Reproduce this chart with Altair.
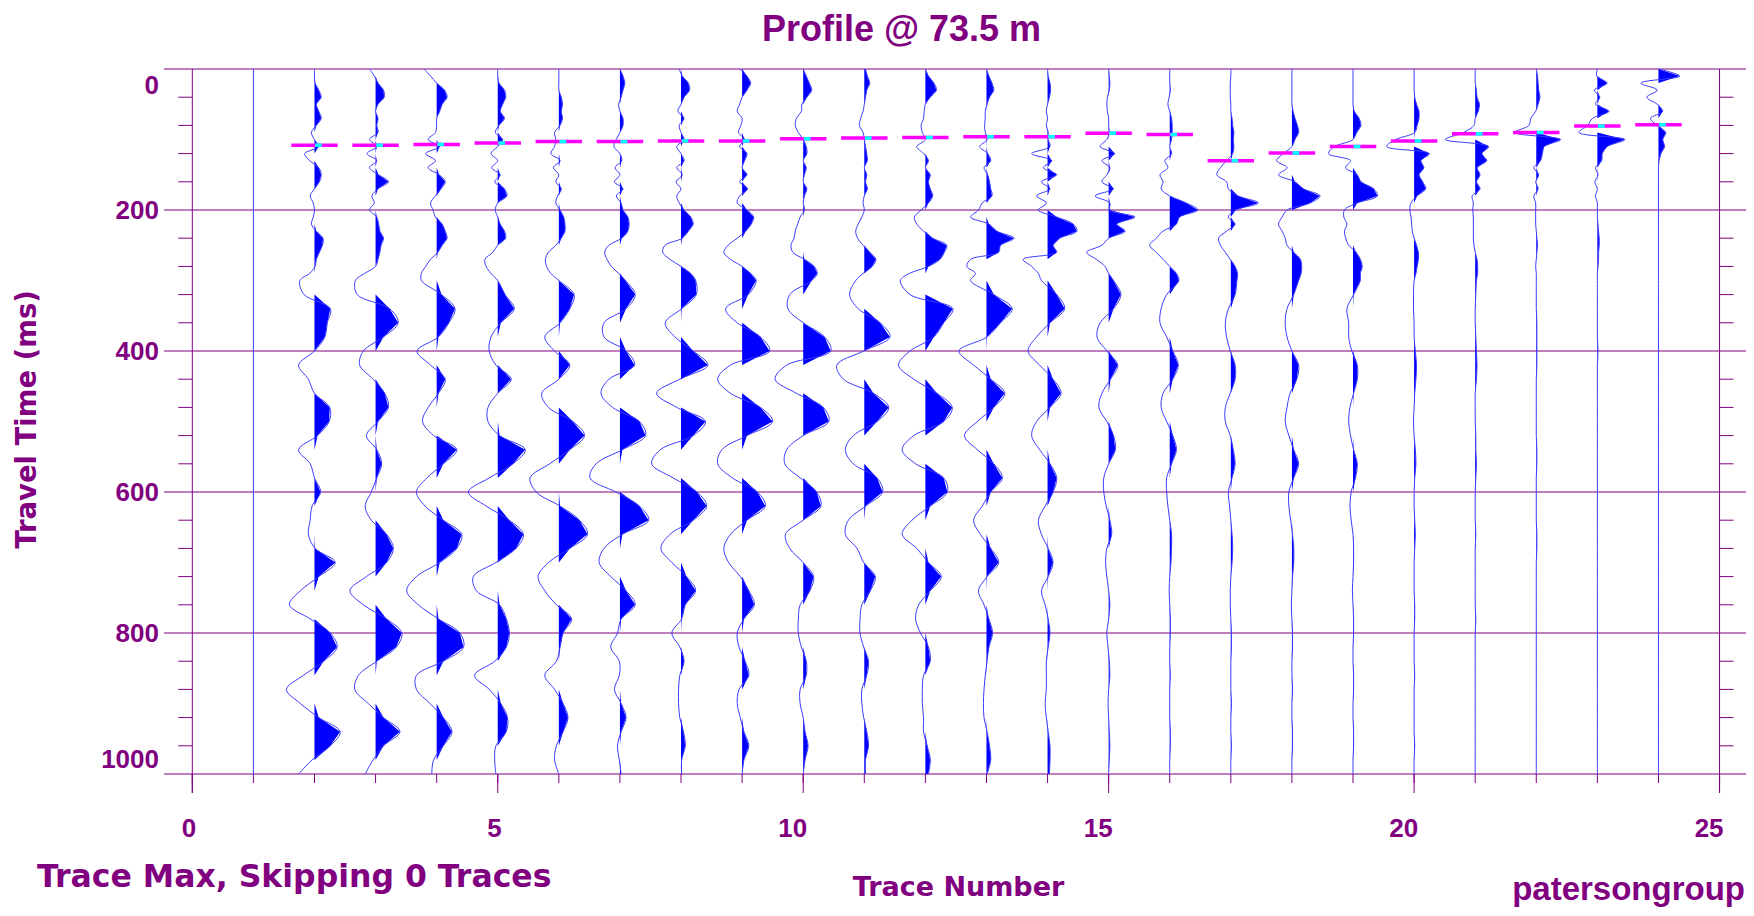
import altair as alt
import pandas as pd

# ---------------- data ----------------
TIMES = [0, 10, 20, 30, 40, 50, 60, 70, 80, 90, 100, 110, 120, 130, 140, 150, 160, 170, 180, 190,
         200, 210, 220, 230, 240, 250, 260, 270, 280, 290, 300, 320, 340, 360, 380, 400, 420, 440,
         460, 480, 500, 520, 540, 560, 580, 600, 620, 640, 660, 680, 700, 720, 740, 760, 780, 800,
         820, 840, 860, 880, 900, 920, 940, 960, 980, 1000]

# amplitude of each trace (in trace-spacing units), 0-300 ms every 10 ms, then every 20 ms
TRACE_02 = [0, 0, 0.01, 0.07, 0.11, 0.03, 0.07, 0.11, 0.03, -0.05, 0, 0.07, -0.16, -0.08, 0.07, 0.11, 0.08, 0, -0.07, -0.02, 0, -0.02, -0.05, 0.03, 0.14, 0.13, 0.08, 0.03, 0.01, -0.08, -0.24] + \
           [-0.17, 0.26, 0.21, 0.17, 0, -0.26, -0.1, 0, 0.25, 0.24, 0.05, -0.26, -0.07, 0, 0.1, -0.04, -0.07, -0.1, 0.01, 0.34, 0.07, -0.23, -0.41, -0.07, 0.26, 0.37, 0.15, -0.18, -0.46, -0.23, 0.07, 0.42, 0.26, -0.04, -0.26]
TRACE_03 = [-0.1, -0.02, 0.04, 0.13, 0.14, 0.04, 0, 0.04, 0.02, 0.04, -0.1, 0.02, -0.14, 0.02, -0.1, 0.05, 0.21, 0.04, -0.06, -0.02, -0.1, 0.02, 0.05, 0.07, 0.13, 0.09, 0.07, 0.04, 0, -0.18, -0.33] + \
           [-0.3, 0.23, 0.37, 0.13, -0.2, -0.26, -0.04, 0.15, 0.21, 0.04, -0.15, 0.02, 0.1, 0.02, -0.07, -0.17, -0.07, 0.18, 0.29, 0.18, -0.15, -0.42, -0.2, 0.18, 0.43, 0.34, 0.02, -0.28, -0.34, -0.12, 0.13, 0.4, 0.13, -0.04, -0.17]
TRACE_04 = [-0.21, -0.1, 0, 0.13, 0.17, 0.09, 0.05, 0, 0, -0.02, -0.14, 0.05, -0.18, -0.02, -0.14, 0.04, 0.14, 0.07, -0.02, -0.1, -0.06, -0.02, 0.09, 0.14, 0.17, 0.09, 0.02, -0.1, -0.18, -0.25, -0.25] + \
           [0.08, 0.3, 0.2, 0.03, -0.32, -0.1, 0.14, 0.03, -0.14, -0.23, -0.05, 0.33, 0.11, -0.16, -0.33, -0.19, 0.11, 0.41, 0.33, 0.05, -0.33, -0.49, -0.3, 0.03, 0.38, 0.44, 0.11, -0.33, -0.33, -0.11, 0.11, 0.25, 0.11, -0.05, -0.08]
TRACE_05 = [0, 0, 0.02, 0.11, 0.13, 0.08, 0.04, 0.11, 0.02, -0.04, 0.08, 0, -0.11, 0, -0.1, 0.04, -0.05, 0.11, 0.15, 0, -0.04, 0, 0.04, 0.11, 0.13, 0, -0.08, -0.21, -0.19, -0.11, 0] + \
           [0.12, 0.27, 0.05, -0.11, -0.14, -0.03, 0.22, 0, -0.16, -0.16, 0.03, 0.45, 0.25, -0.14, -0.48, -0.19, 0.19, 0.42, 0.3, -0.03, -0.4, -0.35, 0.03, 0.14, 0.19, 0.14, -0.05, -0.38, -0.14, 0.05, 0.16, 0.14, -0.03, -0.05, -0.03]
TRACE_06 = [0, 0, 0, 0, 0.04, 0.06, 0.04, 0.06, 0.02, -0.07, -0.05, -0.07, -0.13, 0.02, -0.09, 0, -0.05, 0.04, -0.02, -0.05, 0.02, 0.08, 0.1, 0.1, 0.04, -0.05, -0.17, -0.22, -0.2, -0.13, 0] + \
           [0.25, 0.18, 0.02, -0.23, -0.07, 0.18, 0, -0.28, -0.17, 0.23, 0.42, 0.18, -0.15, -0.47, -0.37, 0.02, 0.34, 0.47, 0.18, -0.17, -0.34, -0.23, -0.04, 0.21, 0.07, 0.02, -0.04, -0.23, -0.07, 0.07, 0.15, 0.07, -0.04, -0.07, 0]
TRACE_07 = [0, 0.05, 0.08, 0.05, 0.02, -0.02, 0, 0.05, 0.05, 0, -0.06, -0.1, 0, 0.03, -0.08, 0, -0.09, 0.05, -0.06, 0.02, 0.05, 0.13, 0.15, 0.13, 0.03, -0.18, -0.25, -0.21, -0.14, -0.02, 0.09] + \
           [0.25, 0.1, -0.26, -0.26, 0.1, 0.24, -0.18, -0.31, -0.12, 0.32, 0.42, 0.04, -0.39, -0.49, -0.07, 0.32, 0.47, 0.04, -0.26, -0.34, -0.15, 0.1, 0.25, 0.02, -0.04, -0.15, -0.01, -0.01, -0.09, 0.02, 0.1, 0.02, -0.04, -0.01, 0.02]
TRACE_08 = [-0.03, 0.02, 0.12, 0.14, 0.05, 0, -0.05, 0.05, -0.03, 0, 0.05, -0.07, 0, 0.05, -0.07, 0.02, -0.08, 0, -0.07, -0.03, 0.05, 0.16, 0.2, 0.12, 0.02, -0.26, -0.3, -0.18, 0, 0.16, 0.24] + \
           [0.25, 0.01, -0.26, -0.1, 0.2, 0.44, -0.02, -0.4, -0.07, 0.4, 0.2, -0.34, -0.48, -0.13, 0.26, 0.42, 0.2, -0.18, -0.33, -0.15, 0.09, 0.24, 0.07, 0.01, -0.15, -0.02, 0.05, -0.02, -0.04, -0.04, -0.02, 0.04, 0.07, 0.01, 0.01]
TRACE_09 = [-0.04, 0.08, 0.14, 0.08, 0, -0.04, -0.08, 0, -0.02, -0.06, 0.04, -0.04, 0.08, 0.04, 0, 0.08, -0.04, 0.09, -0.04, -0.08, 0.08, 0.19, 0.15, 0.06, -0.08, -0.23, -0.3, -0.19, 0, 0.14, 0.23] + \
           [0.1, -0.27, -0.08, 0.3, 0.45, -0.19, -0.4, -0.19, 0.3, 0.5, 0.08, -0.33, -0.4, -0.16, 0.25, 0.38, 0.08, -0.19, -0.3, -0.22, -0.03, 0.11, 0.2, 0.03, -0.08, -0.05, 0.05, 0.11, -0.05, -0.08, -0.03, 0.03, 0.11, 0.03, 0]
TRACE_10 = [0, 0.05, 0.1, 0.14, 0.06, -0.02, -0.03, -0.11, -0.13, -0.08, 0, 0.05, 0.06, 0, 0.05, 0.02, 0, 0.06, 0.02, 0, 0.02, -0.05, -0.09, -0.13, -0.15, -0.2, -0.17, 0.02, 0.18, 0.23, 0.14] + \
           [-0.22, -0.25, 0, 0.35, 0.45, -0.27, -0.46, -0.11, 0.33, 0.42, 0, -0.27, -0.3, -0.05, 0.22, 0.29, 0, -0.29, -0.22, 0, 0.17, 0.11, -0.05, -0.08, -0.08, -0.03, 0.05, 0.05, -0.05, -0.05, 0, 0.03, 0.08, 0.03, 0]
TRACE_11 = [0.02, 0.05, 0.09, 0.04, 0.02, 0, -0.02, -0.06, -0.08, -0.02, 0, 0.02, 0.04, 0.05, 0, 0.04, 0.02, 0.05, 0, -0.02, 0, -0.04, -0.1, -0.14, -0.11, -0.02, 0.09, 0.19, 0.13, -0.02, -0.14] + \
           [-0.24, -0.1, 0.26, 0.42, -0.01, -0.45, -0.34, 0.15, 0.4, 0.21, -0.18, -0.31, -0.18, 0.21, 0.3, 0.02, -0.26, -0.31, -0.12, -0.01, 0.18, 0.1, -0.04, -0.07, -0.07, -0.01, 0.07, 0.04, -0.04, -0.04, -0.01, 0.04, 0.07, 0.02, 0.02]
TRACE_12 = [0, 0.05, 0.14, 0.18, 0.08, 0, -0.02, -0.03, -0.07, -0.05, 0, -0.14, -0.03, 0.05, 0, 0.08, 0.05, 0.08, 0.12, 0.05, -0.07, -0.18, -0.14, -0.03, 0.12, 0.35, 0.31, 0.24, 0.05, -0.26, -0.41] + \
           [-0.25, 0.45, 0.3, 0.14, -0.25, -0.44, -0.19, 0.19, 0.44, 0.3, -0.19, -0.38, -0.16, 0.3, 0.36, 0.08, -0.22, -0.38, -0.14, 0.05, 0.26, 0.08, -0.11, -0.16, -0.08, 0.05, 0.08, -0.03, -0.05, -0.05, -0.03, -0.03, 0.03, 0.08, 0.05]
TRACE_13 = [0, 0.04, 0.09, 0.12, 0.05, 0.01, -0.02, -0.02, -0.03, -0.02, 0.01, -0.11, 0.02, 0.07, -0.04, 0.02, 0.05, 0.07, 0.09, -0.07, -0.13, -0.26, 0.04, 0.17, 0.45, 0.23, 0.2, -0.26, -0.32, -0.18, -0.26] + \
           [0.12, 0.42, 0.23, 0.01, -0.45, -0.21, 0.07, 0.3, 0.12, -0.15, -0.36, -0.15, 0.12, 0.26, 0.07, -0.07, -0.21, -0.1, 0.07, 0.2, 0.01, -0.13, -0.04, 0.04, 0.1, 0.04, 0.01, -0.02, -0.04, -0.05, -0.04, 0.01, 0.05, 0.07, 0.01]
TRACE_14 = [0, 0.01, 0.04, 0.05, 0.03, 0, -0.02, 0, -0.02, 0.01, 0.01, 0.04, -0.26, 0.07, -0.07, 0.15, -0.1, 0.04, -0.18, -0.02, -0.15, 0.15, 0.42, 0.48, 0.2, 0.09, 0.15, -0.4, -0.26, -0.15, -0.1] + \
           [0.15, 0.28, 0.04, -0.18, -0.32, -0.13, 0.09, 0.22, 0.04, -0.18, -0.26, -0.13, 0.04, 0.15, 0.09, -0.04, -0.15, -0.1, 0.01, 0.09, 0.01, -0.1, -0.04, 0.01, 0.04, 0.01, -0.02, -0.02, -0.02, -0.04, -0.02, 0.01, 0.04, 0.04, 0.03]
TRACE_15 = [0, 0.01, 0.02, 0.01, -0.02, -0.03, -0.02, 0, 0, 0.01, -0.03, -0.14, 0.1, -0.11, 0.02, -0.03, -0.11, 0.08, -0.22, 0.02, 0.02, 0.43, 0.13, 0.27, 0, -0.11, -0.36, -0.2, -0.06, 0, 0.08] + \
           [0.2, 0.08, -0.14, -0.19, -0.03, 0.15, 0.03, -0.11, -0.16, -0.03, 0.08, 0.11, 0, -0.08, -0.08, -0.04, 0.02, 0.05, -0.03, -0.05, -0.03, 0, 0.02, 0, -0.03, -0.01, 0.01, 0.02, 0, -0.01, 0, 0.01, 0.02, 0.01, 0]
TRACE_16 = [0, 0, 0, 0.01, -0.01, -0.03, 0, 0.03, 0.04, 0.04, 0.03, 0, 0.03, -0.08, -0.03, -0.16, -0.11, -0.14, 0, 0.27, 0.46, 0.16, 0.11, -0.11, -0.22, -0.33, -0.22, -0.11, 0, 0.11, 0.15] + \
           [-0.05, -0.14, -0.16, -0.05, 0.05, 0.14, 0.05, -0.11, -0.14, -0.05, 0.05, 0.11, 0.03, -0.05, -0.05, -0.03, 0, 0.03, 0.03, 0.02, 0, -0.01, 0, 0.01, 0.01, 0, 0, 0.01, 0, 0, 0, 0.01, 0.01, 0, 0]
TRACE_17 = [0, 0, -0.01, -0.01, -0.01, 0, 0, 0.02, 0.03, 0.05, 0.04, 0.05, 0.03, -0.07, -0.17, -0.23, -0.07, -0.04, 0.12, 0.45, 0.08, -0.04, 0.07, -0.07, -0.2, -0.17, -0.09, -0.01, 0.07, 0.11, 0.1] + \
           [0.07, -0.04, -0.09, -0.07, -0.01, 0.07, 0.07, -0.01, -0.09, -0.09, -0.01, 0.04, 0.07, 0.02, -0.04, -0.02, 0, 0.02, 0.03, 0.02, 0, -0.01, -0.01, 0, 0.01, 0.01, 0, 0, 0, 0.01, 0, 0, 0.01, 0, 0]
TRACE_18 = [0, 0, 0, 0, 0, 0, 0.02, 0.05, 0.09, 0.11, 0.05, 0, -0.14, -0.25, -0.08, -0.22, 0.05, 0.19, 0.46, 0.3, -0.08, -0.16, -0.22, -0.16, -0.11, -0.08, 0.03, 0.14, 0.16, 0.15, 0.11] + \
           [0.03, -0.08, -0.11, -0.08, 0, 0.11, 0.08, -0.03, -0.08, -0.11, -0.05, 0.03, 0.11, 0.03, -0.05, -0.05, -0.02, 0.01, 0.03, 0.03, 0.01, 0, -0.01, 0, 0.01, 0.01, 0, 0, 0.01, 0, 0, 0.01, 0.01, 0, 0]
TRACE_19 = [0, 0, 0, 0, 0, 0, 0.02, 0.1, 0.13, 0.06, 0, -0.3, -0.4, -0.04, -0.12, 0.07, 0.13, 0.34, 0.4, 0.07, -0.14, -0.15, -0.1, -0.14, -0.12, -0.07, 0.05, 0.12, 0.15, 0.12, 0.12] + \
           [0.01, -0.1, -0.07, -0.07, -0.02, 0.07, 0.07, 0.01, -0.05, -0.07, -0.04, 0.01, 0.07, 0.04, -0.03, -0.05, -0.03, 0, 0.01, 0.01, 0, -0.01, 0, 0.01, 0.01, 0, 0, 0.01, 0.01, 0, 0, 0.01, 0.01, 0, 0]
TRACE_20 = [0, 0, 0, 0, 0.01, 0.04, 0.08, 0.08, 0.05, 0.01, -0.3, -0.45, 0.25, 0.11, 0.16, 0.08, 0.14, 0.19, 0.05, -0.05, -0.07, -0.05, -0.04, -0.03, 0, 0.04, 0.07, 0.07, 0.05, 0.03, 0] + \
           [-0.01, -0.01, 0, 0, 0.02, 0.04, 0.03, 0.01, 0, -0.01, 0, 0.02, 0.03, 0.01, 0, 0, 0.01, 0.02, 0.01, 0, 0, 0, 0.01, 0.01, 0, 0, 0, 0.01, 0, 0, 0, 0, 0.01, 0, 0]
TRACE_21 = [0, 0, 0, 0.02, 0.03, 0.07, 0.05, 0, -0.02, -0.19, -0.49, 0.22, 0.11, 0.19, 0.03, 0.08, 0.02, 0.08, -0.05, -0.03, -0.04, -0.03, -0.03, -0.03, -0.03, -0.02, 0, 0.03, 0.04, 0.04, 0.02] + \
           [0.01, 0, 0, 0.01, 0.02, 0.03, 0.02, 0, 0, 0, 0.01, 0.01, 0.02, 0.01, 0, 0, 0, 0.01, 0, 0, 0, 0, 0, 0.01, 0, 0, 0, 0, 0, 0, 0, 0, 0, 0, 0]
TRACE_22 = [0, 0.02, 0.03, 0.04, 0.06, 0.03, -0.01, -0.09, -0.12, -0.35, 0.4, 0.13, 0.1, 0.07, -0.04, 0.04, -0.01, 0.03, -0.04, -0.01, -0.01, -0.01, -0.01, 0, 0.01, 0.02, 0.01, 0, -0.01, 0, 0] + \
           [0, 0, 0.01, 0.01, 0.01, 0.01, 0, 0, 0, 0, 0, 0.01, 0.01, 0, 0, 0, 0, 0.01, 0.01, 0, 0, 0, 0, 0, 0, 0, 0, 0, 0, 0, 0, 0, 0, 0, 0]
TRACE_23 = [0, -0.01, 0.16, -0.05, 0.04, -0.03, 0.19, -0.08, -0.16, -0.3, 0.45, 0.16, 0.08, 0.07, -0.03, 0.01, -0.04, 0, -0.03, 0, 0, 0, 0.01, 0.02, 0.03, 0.03, 0.02, 0.02, 0.01, 0, 0] + \
           [0, 0, 0, 0, 0.01, 0, 0, 0, 0, 0, 0, 0, 0, 0, 0, 0, 0, 0, 0, 0, 0, 0, 0, 0, 0, 0, 0, 0, 0, 0, 0, 0, 0, 0, 0]
TRACE_24 = [0, 0.35, -0.29, -0.02, -0.19, -0.02, 0.07, -0.13, -0.02, 0.12, 0.07, 0.1, 0.04, 0.01, 0, 0, 0, 0, 0, 0, 0, 0, 0, 0, 0, 0, 0, 0, 0, 0, 0] + \
           [0, 0, 0, 0, 0, 0, 0, 0, 0, 0, 0, 0, 0, 0, 0, 0, 0, 0, 0, 0, 0, 0, 0, 0, 0, 0, 0, 0, 0, 0, 0, 0, 0, 0, 0]

TRACE_NUMBERS = [2, 3, 4, 5, 6, 7, 8, 9, 10, 11, 12, 13, 14, 15, 16, 17, 18, 19, 20, 21, 22, 23, 24]
TRACE_AMPS = [TRACE_02, TRACE_03, TRACE_04, TRACE_05, TRACE_06, TRACE_07, TRACE_08, TRACE_09, TRACE_10,
              TRACE_11, TRACE_12, TRACE_13, TRACE_14, TRACE_15, TRACE_16, TRACE_17, TRACE_18, TRACE_19,
              TRACE_20, TRACE_21, TRACE_22, TRACE_23, TRACE_24]
DEAD_TRACES = [1]

# first-break picks (ms)
PICK_MS = [108, 108, 107, 105, 103, 103, 102, 102, 99, 98, 97, 96, 96, 91, 93, 130, 119, 110, 102, 92, 90, 81, 79]

# axes
Y_GRID = [0, 200, 400, 600, 800, 1000]
Y_LABELS = ["0", "200", "400", "600", "800", "1000"]
Y_MINOR = [40, 80, 120, 160, 240, 280, 320, 360, 440, 480, 520, 560, 640, 680, 720, 760, 840, 880, 920, 960]
X_TICKS = [0, 1, 2, 3, 4, 5, 6, 7, 8, 9, 10, 11, 12, 13, 14, 15, 16, 17, 18, 19, 20, 21, 22, 23, 24, 25]
X_MAJOR = [0, 5, 10, 15, 20, 25]
X_LABELS = ["0", "5", "10", "15", "20", "25"]
FRAME_X = [0, 25]

TITLE = "Profile @ 73.5 m"
Y_TITLE = "Travel Time (ms)"
X_TITLE = "Trace Number"
NOTE = "Trace Max, Skipping 0 Traces"
BRAND = "patersongroup"

# ---------------- styling ----------------
W, H = 1582, 705
XMIN, XMAX = -0.4633, 25.433
PURPLE = "#800080"
BLUE = "#0000FF"
LINE_BLUE = "#3a3aff"

rows = []
for n, amps in zip(TRACE_NUMBERS, TRACE_AMPS):
    for t, a in zip(TIMES, amps):
        rows.append({"trace": n, "t": t, "x": n + a, "base": n, "pos": n + max(a, 0.0)})
df = pd.DataFrame(rows)

xs = alt.Scale(domain=[XMIN, XMAX], nice=False, zero=False)
ys = alt.Scale(domain=[0, 1000], nice=False, zero=False, reverse=True)

hgrid = alt.Chart(pd.DataFrame({"g": Y_GRID})).mark_rule(color=PURPLE, strokeWidth=1).encode(
    y=alt.Y("g:Q", scale=ys, axis=None), x=alt.value(0), x2=alt.value(W))

frame = alt.Chart(pd.DataFrame({"f": FRAME_X})).mark_rule(color=PURPLE, strokeWidth=1).encode(
    x=alt.X("f:Q", scale=xs, axis=None), y=alt.value(0), y2=alt.value(H + 19))

minor_df = pd.DataFrame({"m": Y_MINOR})
left_ticks = alt.Chart(minor_df).transform_calculate(e="0").mark_rule(
    color=PURPLE, strokeWidth=1, xOffset=-14).encode(
    x=alt.X("e:Q", scale=xs, axis=None), x2="e:Q", y=alt.Y("m:Q", scale=ys, axis=None))
right_ticks = alt.Chart(minor_df).transform_calculate(e="25").mark_rule(
    color=PURPLE, strokeWidth=1, x2Offset=14).encode(
    x=alt.X("e:Q", scale=xs, axis=None), x2="e:Q", y=alt.Y("m:Q", scale=ys, axis=None))

xt_minor = alt.Chart(pd.DataFrame({"k": X_TICKS})).mark_rule(color=PURPLE, strokeWidth=1).encode(
    x=alt.X("k:Q", scale=xs, axis=None), y=alt.value(H), y2=alt.value(H + 9))
xt_major = alt.Chart(pd.DataFrame({"k": X_MAJOR})).mark_rule(color=PURPLE, strokeWidth=1).encode(
    x=alt.X("k:Q", scale=xs, axis=None), y=alt.value(H), y2=alt.value(H + 19))

# tick labels through the scales
ylab_df = pd.DataFrame({"g": Y_GRID, "lab": Y_LABELS})
lab_style = dict(font="Liberation Sans", fontWeight="bold", fontSize=26, color=PURPLE)
ylab_mid = alt.Chart(ylab_df).transform_filter("datum.g > 0 && datum.g < 1000").mark_text(
    align="right", baseline="middle", dy=1, **lab_style).encode(
    y=alt.Y("g:Q", scale=ys, axis=None), x=alt.value(-5), text="lab:N")
ylab_top = alt.Chart(ylab_df).transform_filter("datum.g == 0").mark_text(
    align="right", baseline="top", dy=4, **lab_style).encode(
    y=alt.Y("g:Q", scale=ys, axis=None), x=alt.value(-5), text="lab:N")
ylab_bot = alt.Chart(ylab_df).transform_filter("datum.g == 1000").mark_text(
    align="right", baseline="alphabetic", dy=-6, **lab_style).encode(
    y=alt.Y("g:Q", scale=ys, axis=None), x=alt.value(-5), text="lab:N")
xlab = alt.Chart(pd.DataFrame({"k": X_MAJOR, "lab": X_LABELS})).mark_text(
    align="right", baseline="alphabetic", dx=4, **lab_style).encode(
    x=alt.X("k:Q", scale=xs, axis=None), y=alt.value(H + 63), text="lab:N")

dead = alt.Chart(pd.DataFrame({"d": DEAD_TRACES})).mark_rule(color=LINE_BLUE, strokeWidth=1).encode(
    x=alt.X("d:Q", scale=xs, axis=None), y=alt.value(0), y2=alt.value(H))

fill = alt.Chart(df).mark_area(orient="horizontal", color=BLUE, interpolate="linear").encode(
    y=alt.Y("t:Q", scale=ys, axis=None),
    x=alt.X("base:Q", scale=xs, axis=None),
    x2="pos:Q",
    detail="trace:N")

wiggle = alt.Chart(df).mark_line(color=LINE_BLUE, strokeWidth=1, interpolate="catmull-rom").encode(
    x=alt.X("x:Q", scale=xs, axis=None),
    y=alt.Y("t:Q", scale=ys, axis=None),
    detail="trace:N",
    order="t:Q")

pick_df = pd.DataFrame({"trace": TRACE_NUMBERS, "pick": PICK_MS})
picks = alt.Chart(pick_df).transform_calculate(
    a="datum.trace - 0.38", b="datum.trace + 0.38").mark_rule(color="#FF00FF", strokeWidth=3.5).encode(
    x=alt.X("a:Q", scale=xs, axis=None), x2="b:Q", y=alt.Y("pick:Q", scale=ys, axis=None))
cyan = alt.Chart(pick_df).transform_calculate(
    a="datum.trace + 0.01", b="datum.trace + 0.12").mark_rule(color="#00FFFF", strokeWidth=3.5).encode(
    x=alt.X("a:Q", scale=xs, axis=None), x2="b:Q", y=alt.Y("pick:Q", scale=ys, axis=None))


def label(txt, x, y, size, font="Liberation Sans", align="center", angle=0, baseline="alphabetic"):
    return alt.Chart(pd.DataFrame({"s": [txt]})).mark_text(
        font=font, fontWeight="bold", fontSize=size, color=PURPLE, align=align,
        baseline=baseline, angle=angle).encode(text="s:N", x=alt.value(x), y=alt.value(y))


title = label(TITLE, 737.5, -28, 36)
ytitle = label(Y_TITLE, -136, 350.5, 27.5, font="DejaVu Sans", angle=270, baseline="middle")
xtitle = label(X_TITLE, 794.5, 827, 27, font="DejaVu Sans")
note = label(NOTE, -127, 818, 31.5, font="DejaVu Sans", align="left")
brand = label(BRAND, 1581, 831, 33, align="right")

chart = alt.layer(
    hgrid, frame, left_ticks, right_ticks, xt_minor, xt_major, dead, fill, wiggle, picks, cyan,
    ylab_mid, ylab_top, ylab_bot, xlab, title, ytitle, xtitle, note, brand
).properties(
    width=W, height=H,
    padding={"left": 156, "top": 61, "right": 0, "bottom": 134},
    autosize=alt.AutoSizeParams(type="none"),
    background="white",
).configure_view(strokeWidth=0)

chart.save("out.html", embed_options={"renderer": "svg", "actions": False})
